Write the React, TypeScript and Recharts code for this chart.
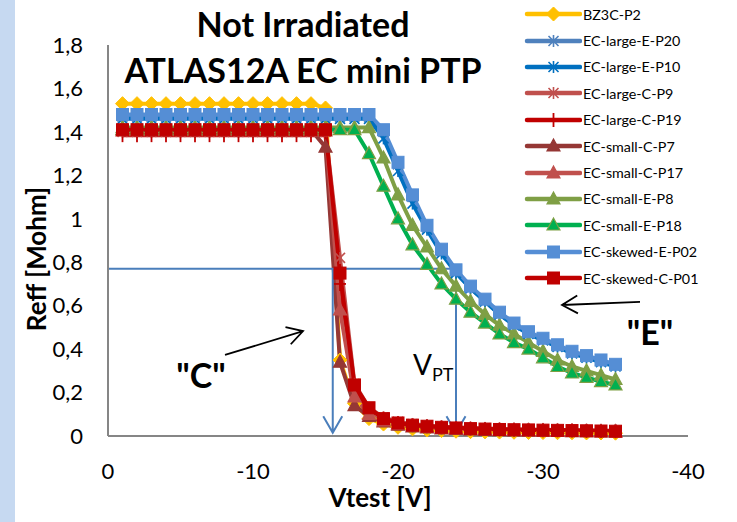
import { LineChart, Line, XAxis, YAxis, Legend, ReferenceLine, ReferenceDot } from "recharts";

// test voltage in V, one point per volt
const volts = [
  -1, -2, -3, -4, -5, -6, -7, -8, -9, -10, -11, -12, -13, -14, -15, -16, -17, -18,
  -19, -20, -21, -22, -23, -24, -25, -26, -27, -28, -29, -30, -31, -32, -33, -34, -35,
];

// Reff in Mohm for each structure
const bz3cP2 = [
  1.53, 1.53, 1.53, 1.53, 1.53, 1.53, 1.53, 1.53, 1.53, 1.53, 1.53, 1.53, 1.53, 1.53, 1.51, 0.35, 0.15, 0.08,
  0.055, 0.04, 0.033, 0.028, 0.025, 0.022, 0.02, 0.019, 0.018, 0.017, 0.016, 0.016, 0.015, 0.015, 0.014, 0.014, 0.013,
];
const largeEP20 = [
  1.47, 1.47, 1.47, 1.47, 1.47, 1.47, 1.47, 1.47, 1.47, 1.47, 1.47, 1.47, 1.47, 1.47, 1.47, 1.47, 1.47, 1.47,
  1.4, 1.25, 1.1, 0.96, 0.85, 0.755, 0.68, 0.62, 0.56, 0.515, 0.475, 0.445, 0.415, 0.385, 0.365, 0.345, 0.325,
];
const largeEP10 = [
  1.46, 1.46, 1.46, 1.46, 1.46, 1.46, 1.46, 1.46, 1.46, 1.46, 1.46, 1.46, 1.46, 1.46, 1.46, 1.46, 1.46, 1.46,
  1.37, 1.22, 1.07, 0.95, 0.84, 0.75, 0.68, 0.62, 0.56, 0.51, 0.47, 0.44, 0.41, 0.38, 0.36, 0.34, 0.32,
];
const largeCP9 = [
  1.4, 1.4, 1.4, 1.4, 1.4, 1.4, 1.4, 1.4, 1.4, 1.4, 1.4, 1.4, 1.4, 1.4, 1.4, 0.82, 0.24, 0.13,
  0.085, 0.065, 0.055, 0.048, 0.043, 0.04, 0.037, 0.035, 0.033, 0.031, 0.03, 0.029, 0.028, 0.027, 0.026, 0.025, 0.024,
];
const largeCP19 = [
  1.385, 1.385, 1.385, 1.385, 1.385, 1.385, 1.385, 1.385, 1.385, 1.385, 1.385, 1.385, 1.385, 1.385, 1.385, 0.7, 0.21, 0.12,
  0.08, 0.06, 0.05, 0.045, 0.04, 0.037, 0.034, 0.032, 0.03, 0.029, 0.028, 0.027, 0.026, 0.025, 0.024, 0.023, 0.022,
];
const smallCP7 = [
  1.41, 1.41, 1.41, 1.41, 1.41, 1.41, 1.41, 1.41, 1.41, 1.41, 1.41, 1.41, 1.41, 1.41, 1.33, 0.34, 0.14, 0.09,
  0.065, 0.05, 0.042, 0.037, 0.033, 0.03, 0.028, 0.026, 0.025, 0.024, 0.023, 0.022, 0.021, 0.02, 0.02, 0.019, 0.019,
];
const smallCP17 = [
  1.405, 1.405, 1.405, 1.405, 1.405, 1.405, 1.405, 1.405, 1.405, 1.405, 1.405, 1.405, 1.405, 1.405, 1.405, 0.58, 0.18, 0.1,
  0.07, 0.055, 0.046, 0.04, 0.036, 0.033, 0.031, 0.029, 0.027, 0.026, 0.025, 0.024, 0.023, 0.022, 0.021, 0.021, 0.02,
];
const smallEP8 = [
  1.42, 1.42, 1.42, 1.42, 1.42, 1.42, 1.42, 1.42, 1.42, 1.42, 1.42, 1.42, 1.42, 1.42, 1.42, 1.42, 1.42, 1.42,
  1.28, 1.11, 0.97, 0.87, 0.77, 0.69, 0.62, 0.56, 0.51, 0.47, 0.43, 0.39, 0.35, 0.32, 0.3, 0.28, 0.26,
];
const smallEP18 = [
  1.41, 1.41, 1.41, 1.41, 1.41, 1.41, 1.41, 1.41, 1.41, 1.41, 1.41, 1.41, 1.41, 1.41, 1.41, 1.41, 1.41, 1.3,
  1.15, 1.0, 0.88, 0.79, 0.7, 0.63, 0.57, 0.52, 0.47, 0.43, 0.4, 0.36, 0.32, 0.29, 0.27, 0.25, 0.235,
];
const skewedEP02 = [
  1.48, 1.48, 1.48, 1.48, 1.48, 1.48, 1.48, 1.48, 1.48, 1.48, 1.48, 1.48, 1.48, 1.48, 1.48, 1.48, 1.48, 1.48,
  1.41, 1.26, 1.11, 0.97, 0.86, 0.765, 0.69, 0.63, 0.57, 0.52, 0.48, 0.45, 0.42, 0.39, 0.37, 0.35, 0.33,
];
const skewedCP01 = [
  1.41, 1.41, 1.41, 1.41, 1.41, 1.41, 1.41, 1.41, 1.41, 1.41, 1.41, 1.41, 1.41, 1.41, 1.41, 0.75, 0.235, 0.13,
  0.08, 0.06, 0.05, 0.045, 0.04, 0.037, 0.034, 0.032, 0.03, 0.029, 0.028, 0.027, 0.026, 0.025, 0.024, 0.023, 0.022,
];

const xTicks = [0, -10, -20, -30, -40];
const yTicks = [0, 0.2, 0.4, 0.6, 0.8, 1, 1.2, 1.4, 1.6, 1.8];

// punch-through level and the two V_PT values marked on the plot
const ptLevel = 0.77;
const vptC = -15.5;
const vptE = -24;

type MarkerKind = "diamond" | "star" | "plus" | "triangle" | "square";

interface SeriesDef {
  key: string;
  name: string;
  values: number[];
  color: string;
  marker: MarkerKind;
  fill: string;
  edge: string;
}

const series: SeriesDef[] = [
  { key: "bz3c", name: "BZ3C-P2", values: bz3cP2, color: "#FFC000", marker: "diamond", fill: "#FFC000", edge: "#FFC000" },
  { key: "lE20", name: "EC-large-E-P20", values: largeEP20, color: "#4F81BD", marker: "star", fill: "#4F81BD", edge: "#4F81BD" },
  { key: "lE10", name: "EC-large-E-P10", values: largeEP10, color: "#0070C0", marker: "star", fill: "#0070C0", edge: "#0070C0" },
  { key: "lC9", name: "EC-large-C-P9", values: largeCP9, color: "#C0504D", marker: "star", fill: "#C0504D", edge: "#C0504D" },
  { key: "lC19", name: "EC-large-C-P19", values: largeCP19, color: "#C00000", marker: "plus", fill: "#C00000", edge: "#C00000" },
  { key: "sC7", name: "EC-small-C-P7", values: smallCP7, color: "#953735", marker: "triangle", fill: "#953735", edge: "#953735" },
  { key: "sC17", name: "EC-small-C-P17", values: smallCP17, color: "#C0504D", marker: "triangle", fill: "#C0504D", edge: "#C0504D" },
  { key: "sE8", name: "EC-small-E-P8", values: smallEP8, color: "#7F9F45", marker: "triangle", fill: "#7F9F45", edge: "#7F9F45" },
  { key: "sE18", name: "EC-small-E-P18", values: smallEP18, color: "#00B050", marker: "triangle", fill: "#00B050", edge: "#7F9F45" },
  { key: "skE02", name: "EC-skewed-E-P02", values: skewedEP02, color: "#558ED5", marker: "square", fill: "#558ED5", edge: "#558ED5" },
  { key: "skC01", name: "EC-skewed-C-P01", values: skewedCP01, color: "#C00000", marker: "square", fill: "#C00000", edge: "#C00000" },
];

const chartData = volts.map((v, i) => {
  const row: Record<string, number> = { v };
  series.forEach((s) => {
    row[s.key] = s.values[i];
  });
  return row;
});

const FONT = "Lato, 'Open Sans', sans-serif";

function drawMarker(kind: MarkerKind, cx: number, cy: number, fill: string, edge: string) {
  switch (kind) {
    case "diamond":
      return <polygon points={`${cx},${cy - 7} ${cx + 7},${cy} ${cx},${cy + 7} ${cx - 7},${cy}`} fill={fill} stroke={edge} strokeWidth={1} />;
    case "star":
      return (
        <g stroke={edge} strokeWidth={1.6}>
          <line x1={cx} y1={cy - 6} x2={cx} y2={cy + 6} />
          <line x1={cx - 5} y1={cy - 5} x2={cx + 5} y2={cy + 5} />
          <line x1={cx - 5} y1={cy + 5} x2={cx + 5} y2={cy - 5} />
        </g>
      );
    case "plus":
      return (
        <g stroke={edge} strokeWidth={1.8}>
          <line x1={cx} y1={cy - 7} x2={cx} y2={cy + 7} />
          <line x1={cx - 6} y1={cy} x2={cx + 6} y2={cy} />
        </g>
      );
    case "triangle":
      return <polygon points={`${cx},${cy - 7} ${cx + 6.5},${cy + 5} ${cx - 6.5},${cy + 5}`} fill={fill} stroke={edge} strokeWidth={1.2} />;
    case "square":
      return <rect x={cx - 6} y={cy - 6} width={12} height={12} fill={fill} stroke={edge} strokeWidth={1} />;
  }
}

const dotFor = (s: SeriesDef) => (props: any) => {
  const { cx, cy, index } = props;
  if (cx == null || cy == null) return <g key={`${s.key}-${index}`} />;
  return <g key={`${s.key}-${index}`}>{drawMarker(s.marker, cx, cy, s.fill, s.edge)}</g>;
};

const LegendBox = () => (
  <div style={{ fontFamily: FONT, fontSize: 14.3, color: "#000" }}>
    {series.map((s) => (
      <div key={s.key} style={{ display: "flex", alignItems: "center", height: 26.4 }}>
        <svg width={58} height={20} style={{ marginRight: 1 }}>
          <line x1={3} y1={10} x2={56} y2={10} stroke={s.color} strokeWidth={4.5} strokeLinecap="round" />
          {drawMarker(s.marker, 29.5, 10, s.fill, s.edge)}
        </svg>
        <span>{s.name}</span>
      </div>
    ))}
  </div>
);

function arrowPath(x1: number, y1: number, x2: number, y2: number, head: number) {
  const a = Math.atan2(y2 - y1, x2 - x1);
  const spread = Math.PI / 6;
  const ax = x2 - head * Math.cos(a - spread);
  const ay = y2 - head * Math.sin(a - spread);
  const bx = x2 - head * Math.cos(a + spread);
  const by = y2 - head * Math.sin(a + spread);
  return `M${x1},${y1} L${x2},${y2} M${ax},${ay} L${x2},${y2} L${bx},${by}`;
}

const arrowShape = (color: string, width: number, head: number) => (props: any) => {
  const { x1, y1, x2, y2 } = props;
  if ([x1, y1, x2, y2].some((n) => n == null || Number.isNaN(n))) return <g />;
  return <path d={arrowPath(x1, y1, x2, y2, head)} stroke={color} strokeWidth={width} fill="none" />;
};

const textShape = (content: React.ReactNode, size: number, weight: number, anchor: "start" | "middle" = "middle") => (props: any) => (
  <text x={props.cx} y={props.cy} textAnchor={anchor} fontFamily={FONT} fontSize={size} fontWeight={weight} fill="#000">
    {content}
  </text>
);

const fmtTick = (v: number) => String(Math.round(v * 10) / 10).replace(".", ",");

const titleStyle: React.CSSProperties = {
  position: "absolute",
  left: 103,
  width: 400,
  textAlign: "center",
  fontFamily: FONT,
  fontWeight: 700,
  fontSize: 34,
  lineHeight: "40px",
  whiteSpace: "nowrap",
};

export default function App() {
  return (
    <div style={{ position: "absolute", left: 0, top: 0, width: 737, height: 522, background: "#fff", overflow: "hidden" }}>
      <div style={{ position: "absolute", left: 0, top: 0, width: 15, height: 522, background: "#C6D9F1" }} />
      <LineChart width={737} height={522} data={chartData} margin={{ top: 45, right: 49, bottom: 0, left: 0 }}>
        <XAxis
          dataKey="v"
          type="number"
          domain={[-40, 0]}
          ticks={xTicks}
          reversed
          height={86}
          axisLine={{ stroke: "#868686", strokeWidth: 2 }}
          tickLine={false}
          tickSize={0}
          tickMargin={27}
          tick={{ fontSize: 22, fill: "#000", fontFamily: FONT }}
        />
        <YAxis
          type="number"
          domain={[0, 1.8]}
          ticks={yTicks}
          width={108}
          axisLine={{ stroke: "#868686", strokeWidth: 2 }}
          tickLine={false}
          tickSize={0}
          tickMargin={25}
          tickFormatter={fmtTick}
          tick={{ fontSize: 22, fill: "#000", fontFamily: FONT }}
        />
        <Legend
          layout="vertical"
          align="center"
          verticalAlign="middle"
          content={LegendBox}
          wrapperStyle={{ left: 524, top: 1, width: 210 }}
        />
        {series.map((s) => (
          <Line
            key={s.key}
            dataKey={s.key}
            name={s.name}
            stroke={s.color}
            strokeWidth={4}
            dot={dotFor(s)}
            activeDot={false}
            isAnimationActive={false}
          />
        ))}
        <ReferenceLine
          segment={[{ x: 0, y: ptLevel }, { x: vptE, y: ptLevel }]}
          stroke="#4A7EBB"
          strokeWidth={2}
        />
        <ReferenceLine
          segment={[{ x: vptC, y: ptLevel }, { x: vptC, y: 0.015 }]}
          shape={arrowShape("#4A7EBB", 2, 19)}
        />
        <ReferenceLine
          segment={[{ x: vptE, y: ptLevel }, { x: vptE, y: 0.015 }]}
          shape={arrowShape("#4A7EBB", 2, 19)}
        />
        <ReferenceLine
          segment={[{ x: -8.07, y: 0.373 }, { x: -13.45, y: 0.483 }]}
          shape={arrowShape("#000", 1.8, 18)}
        />
        <ReferenceLine
          segment={[{ x: -36.69, y: 0.617 }, { x: -31.31, y: 0.603 }]}
          shape={arrowShape("#000", 1.8, 18)}
        />
        <ReferenceDot x={-6.41} y={0.221} r={0} shape={textShape('"C"', 34, 700)} />
        <ReferenceDot x={-37.38} y={0.419} r={0} shape={textShape('"E"', 34, 700)} />
        <ReferenceDot
          x={-21.03}
          y={0.281}
          r={0}
          shape={textShape(
            <>
              <tspan>V</tspan>
              <tspan fontSize={18} dy={6}>PT</tspan>
            </>,
            28,
            400,
            "start"
          )}
        />
      </LineChart>
      <div style={{ ...titleStyle, top: 4 }}>Not Irradiated</div>
      <div style={{ ...titleStyle, top: 50 }}>ATLAS12A EC mini PTP</div>
      <div
        style={{
          position: "absolute",
          left: 280,
          width: 200,
          top: 484,
          textAlign: "center",
          fontFamily: FONT,
          fontWeight: 700,
          fontSize: 26,
          lineHeight: "26px",
        }}
      >
        Vtest [V]
      </div>
      <div
        style={{
          position: "absolute",
          left: 36 - 100,
          top: 259 - 13,
          width: 200,
          textAlign: "center",
          fontFamily: FONT,
          fontWeight: 700,
          fontSize: 26,
          lineHeight: "26px",
          transform: "rotate(-90deg)",
        }}
      >
        Reff [Mohm]
      </div>
    </div>
  );
}
